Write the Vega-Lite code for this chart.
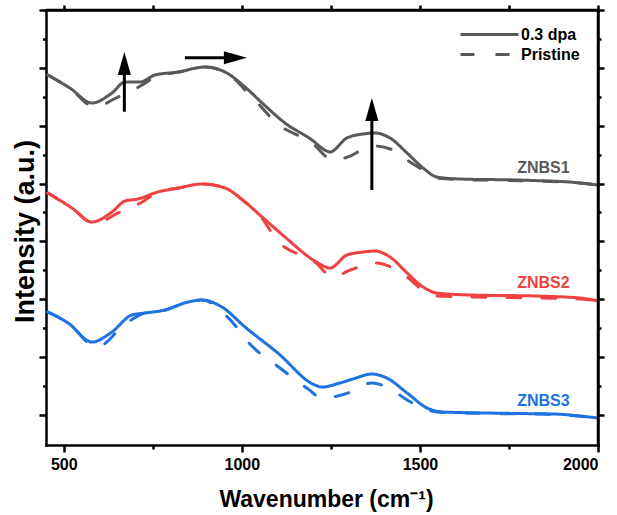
{
  "$schema": "https://vega.github.io/schema/vega-lite/v6.json",
  "width": 552,
  "height": 435,
  "autosize": "none",
  "padding": {"left": 46, "top": 10, "right": 19, "bottom": 70},
  "background": "white",
  "config": {
    "view": {"stroke": null},
    "font": "Liberation Sans",
    "axis": {
      "domainColor": "black",
      "domainWidth": 2.5,
      "domainCap": "square",
      "tickColor": "black",
      "tickWidth": 2.5,
      "grid": false,
      "labelFont": "Liberation Sans",
      "labelFontWeight": "bold",
      "labelFontSize": 16,
      "labelColor": "black",
      "titleFont": "Liberation Sans",
      "titleFontWeight": "bold",
      "titleColor": "black"
    }
  },
  "datasets": {
    "spectra": [
      {"sample": "ZNBS1", "state": "0.3 dpa", "wn": 455, "I": 5.876},
      {"sample": "ZNBS1", "state": "0.3 dpa", "wn": 517, "I": 5.651},
      {"sample": "ZNBS1", "state": "0.3 dpa", "wn": 579, "I": 5.392},
      {"sample": "ZNBS1", "state": "0.3 dpa", "wn": 635, "I": 5.564},
      {"sample": "ZNBS1", "state": "0.3 dpa", "wn": 672, "I": 5.755},
      {"sample": "ZNBS1", "state": "0.3 dpa", "wn": 714, "I": 5.755},
      {"sample": "ZNBS1", "state": "0.3 dpa", "wn": 756, "I": 5.876},
      {"sample": "ZNBS1", "state": "0.3 dpa", "wn": 821, "I": 5.927},
      {"sample": "ZNBS1", "state": "0.3 dpa", "wn": 896, "I": 6.014},
      {"sample": "ZNBS1", "state": "0.3 dpa", "wn": 953, "I": 5.927},
      {"sample": "ZNBS1", "state": "0.3 dpa", "wn": 1009, "I": 5.668},
      {"sample": "ZNBS1", "state": "0.3 dpa", "wn": 1057, "I": 5.392},
      {"sample": "ZNBS1", "state": "0.3 dpa", "wn": 1121, "I": 5.046},
      {"sample": "ZNBS1", "state": "0.3 dpa", "wn": 1197, "I": 4.752},
      {"sample": "ZNBS1", "state": "0.3 dpa", "wn": 1233, "I": 4.579},
      {"sample": "ZNBS1", "state": "0.3 dpa", "wn": 1247, "I": 4.545},
      {"sample": "ZNBS1", "state": "0.3 dpa", "wn": 1295, "I": 4.787},
      {"sample": "ZNBS1", "state": "0.3 dpa", "wn": 1340, "I": 4.856},
      {"sample": "ZNBS1", "state": "0.3 dpa", "wn": 1374, "I": 4.873},
      {"sample": "ZNBS1", "state": "0.3 dpa", "wn": 1416, "I": 4.787},
      {"sample": "ZNBS1", "state": "0.3 dpa", "wn": 1464, "I": 4.527},
      {"sample": "ZNBS1", "state": "0.3 dpa", "wn": 1509, "I": 4.268},
      {"sample": "ZNBS1", "state": "0.3 dpa", "wn": 1548, "I": 4.112},
      {"sample": "ZNBS1", "state": "0.3 dpa", "wn": 1613, "I": 4.078},
      {"sample": "ZNBS1", "state": "0.3 dpa", "wn": 1781, "I": 4.06},
      {"sample": "ZNBS1", "state": "0.3 dpa", "wn": 1830, "I": 4.05},
      {"sample": "ZNBS1", "state": "0.3 dpa", "wn": 1921, "I": 4.026},
      {"sample": "ZNBS1", "state": "0.3 dpa", "wn": 2000, "I": 3.974},

      {"sample": "ZNBS1", "state": "Pristine", "wn": 455, "I": 5.876},
      {"sample": "ZNBS1", "state": "Pristine", "wn": 517, "I": 5.651},
      {"sample": "ZNBS1", "state": "Pristine", "wn": 587, "I": 5.322},
      {"sample": "ZNBS1", "state": "Pristine", "wn": 646, "I": 5.478},
      {"sample": "ZNBS1", "state": "Pristine", "wn": 720, "I": 5.703},
      {"sample": "ZNBS1", "state": "Pristine", "wn": 756, "I": 5.841},
      {"sample": "ZNBS1", "state": "Pristine", "wn": 821, "I": 5.927},
      {"sample": "ZNBS1", "state": "Pristine", "wn": 896, "I": 6.014},
      {"sample": "ZNBS1", "state": "Pristine", "wn": 953, "I": 5.927},
      {"sample": "ZNBS1", "state": "Pristine", "wn": 1028, "I": 5.495},
      {"sample": "ZNBS1", "state": "Pristine", "wn": 1101, "I": 5.03},
      {"sample": "ZNBS1", "state": "Pristine", "wn": 1197, "I": 4.70},
      {"sample": "ZNBS1", "state": "Pristine", "wn": 1256, "I": 4.406},
      {"sample": "ZNBS1", "state": "Pristine", "wn": 1304, "I": 4.475},
      {"sample": "ZNBS1", "state": "Pristine", "wn": 1337, "I": 4.579},
      {"sample": "ZNBS1", "state": "Pristine", "wn": 1374, "I": 4.648},
      {"sample": "ZNBS1", "state": "Pristine", "wn": 1424, "I": 4.579},
      {"sample": "ZNBS1", "state": "Pristine", "wn": 1464, "I": 4.406},
      {"sample": "ZNBS1", "state": "Pristine", "wn": 1509, "I": 4.234},
      {"sample": "ZNBS1", "state": "Pristine", "wn": 1548, "I": 4.095},
      {"sample": "ZNBS1", "state": "Pristine", "wn": 1613, "I": 4.07},
      {"sample": "ZNBS1", "state": "Pristine", "wn": 1781, "I": 4.05},
      {"sample": "ZNBS1", "state": "Pristine", "wn": 1921, "I": 4.02},
      {"sample": "ZNBS1", "state": "Pristine", "wn": 2000, "I": 3.974},

      {"sample": "ZNBS2", "state": "0.3 dpa", "wn": 455, "I": 3.836},
      {"sample": "ZNBS2", "state": "0.3 dpa", "wn": 523, "I": 3.576},
      {"sample": "ZNBS2", "state": "0.3 dpa", "wn": 579, "I": 3.335},
      {"sample": "ZNBS2", "state": "0.3 dpa", "wn": 635, "I": 3.507},
      {"sample": "ZNBS2", "state": "0.3 dpa", "wn": 672, "I": 3.698},
      {"sample": "ZNBS2", "state": "0.3 dpa", "wn": 708, "I": 3.732},
      {"sample": "ZNBS2", "state": "0.3 dpa", "wn": 764, "I": 3.853},
      {"sample": "ZNBS2", "state": "0.3 dpa", "wn": 821, "I": 3.922},
      {"sample": "ZNBS2", "state": "0.3 dpa", "wn": 888, "I": 3.991},
      {"sample": "ZNBS2", "state": "0.3 dpa", "wn": 953, "I": 3.922},
      {"sample": "ZNBS2", "state": "0.3 dpa", "wn": 1009, "I": 3.68},
      {"sample": "ZNBS2", "state": "0.3 dpa", "wn": 1057, "I": 3.421},
      {"sample": "ZNBS2", "state": "0.3 dpa", "wn": 1121, "I": 3.075},
      {"sample": "ZNBS2", "state": "0.3 dpa", "wn": 1214, "I": 2.626},
      {"sample": "ZNBS2", "state": "0.3 dpa", "wn": 1247, "I": 2.539},
      {"sample": "ZNBS2", "state": "0.3 dpa", "wn": 1295, "I": 2.764},
      {"sample": "ZNBS2", "state": "0.3 dpa", "wn": 1340, "I": 2.816},
      {"sample": "ZNBS2", "state": "0.3 dpa", "wn": 1374, "I": 2.833},
      {"sample": "ZNBS2", "state": "0.3 dpa", "wn": 1416, "I": 2.73},
      {"sample": "ZNBS2", "state": "0.3 dpa", "wn": 1464, "I": 2.453},
      {"sample": "ZNBS2", "state": "0.3 dpa", "wn": 1509, "I": 2.211},
      {"sample": "ZNBS2", "state": "0.3 dpa", "wn": 1548, "I": 2.107},
      {"sample": "ZNBS2", "state": "0.3 dpa", "wn": 1641, "I": 2.073},
      {"sample": "ZNBS2", "state": "0.3 dpa", "wn": 1830, "I": 2.055},
      {"sample": "ZNBS2", "state": "0.3 dpa", "wn": 1949, "I": 2.021},
      {"sample": "ZNBS2", "state": "0.3 dpa", "wn": 2000, "I": 1.969},

      {"sample": "ZNBS2", "state": "Pristine", "wn": 455, "I": 3.836},
      {"sample": "ZNBS2", "state": "Pristine", "wn": 523, "I": 3.576},
      {"sample": "ZNBS2", "state": "Pristine", "wn": 588, "I": 3.30},
      {"sample": "ZNBS2", "state": "Pristine", "wn": 646, "I": 3.473},
      {"sample": "ZNBS2", "state": "Pristine", "wn": 720, "I": 3.68},
      {"sample": "ZNBS2", "state": "Pristine", "wn": 764, "I": 3.853},
      {"sample": "ZNBS2", "state": "Pristine", "wn": 821, "I": 3.922},
      {"sample": "ZNBS2", "state": "Pristine", "wn": 888, "I": 3.991},
      {"sample": "ZNBS2", "state": "Pristine", "wn": 953, "I": 3.922},
      {"sample": "ZNBS2", "state": "Pristine", "wn": 1009, "I": 3.68},
      {"sample": "ZNBS2", "state": "Pristine", "wn": 1045, "I": 3.49},
      {"sample": "ZNBS2", "state": "Pristine", "wn": 1101, "I": 3.006},
      {"sample": "ZNBS2", "state": "Pristine", "wn": 1205, "I": 2.643},
      {"sample": "ZNBS2", "state": "Pristine", "wn": 1256, "I": 2.384},
      {"sample": "ZNBS2", "state": "Pristine", "wn": 1304, "I": 2.505},
      {"sample": "ZNBS2", "state": "Pristine", "wn": 1374, "I": 2.626},
      {"sample": "ZNBS2", "state": "Pristine", "wn": 1424, "I": 2.539},
      {"sample": "ZNBS2", "state": "Pristine", "wn": 1464, "I": 2.384},
      {"sample": "ZNBS2", "state": "Pristine", "wn": 1515, "I": 2.124},
      {"sample": "ZNBS2", "state": "Pristine", "wn": 1548, "I": 2.055},
      {"sample": "ZNBS2", "state": "Pristine", "wn": 1641, "I": 2.038},
      {"sample": "ZNBS2", "state": "Pristine", "wn": 1830, "I": 2.021},
      {"sample": "ZNBS2", "state": "Pristine", "wn": 1949, "I": 2.004},
      {"sample": "ZNBS2", "state": "Pristine", "wn": 2000, "I": 1.969},

      {"sample": "ZNBS3", "state": "0.3 dpa", "wn": 455, "I": 1.779},
      {"sample": "ZNBS3", "state": "0.3 dpa", "wn": 512, "I": 1.589},
      {"sample": "ZNBS3", "state": "0.3 dpa", "wn": 579, "I": 1.26},
      {"sample": "ZNBS3", "state": "0.3 dpa", "wn": 635, "I": 1.433},
      {"sample": "ZNBS3", "state": "0.3 dpa", "wn": 691, "I": 1.727},
      {"sample": "ZNBS3", "state": "0.3 dpa", "wn": 728, "I": 1.761},
      {"sample": "ZNBS3", "state": "0.3 dpa", "wn": 784, "I": 1.813},
      {"sample": "ZNBS3", "state": "0.3 dpa", "wn": 849, "I": 1.952},
      {"sample": "ZNBS3", "state": "0.3 dpa", "wn": 888, "I": 1.986},
      {"sample": "ZNBS3", "state": "0.3 dpa", "wn": 944, "I": 1.865},
      {"sample": "ZNBS3", "state": "0.3 dpa", "wn": 1009, "I": 1.519},
      {"sample": "ZNBS3", "state": "0.3 dpa", "wn": 1101, "I": 1.07},
      {"sample": "ZNBS3", "state": "0.3 dpa", "wn": 1205, "I": 0.517},
      {"sample": "ZNBS3", "state": "0.3 dpa", "wn": 1225, "I": 0.482},
      {"sample": "ZNBS3", "state": "0.3 dpa", "wn": 1275, "I": 0.551},
      {"sample": "ZNBS3", "state": "0.3 dpa", "wn": 1312, "I": 0.621},
      {"sample": "ZNBS3", "state": "0.3 dpa", "wn": 1365, "I": 0.707},
      {"sample": "ZNBS3", "state": "0.3 dpa", "wn": 1407, "I": 0.638},
      {"sample": "ZNBS3", "state": "0.3 dpa", "wn": 1464, "I": 0.379},
      {"sample": "ZNBS3", "state": "0.3 dpa", "wn": 1520, "I": 0.119},
      {"sample": "ZNBS3", "state": "0.3 dpa", "wn": 1565, "I": 0.05},
      {"sample": "ZNBS3", "state": "0.3 dpa", "wn": 1688, "I": 0.033},
      {"sample": "ZNBS3", "state": "0.3 dpa", "wn": 1830, "I": 0.02},
      {"sample": "ZNBS3", "state": "0.3 dpa", "wn": 1874, "I": 0.016},
      {"sample": "ZNBS3", "state": "0.3 dpa", "wn": 2000, "I": -0.054},

      {"sample": "ZNBS3", "state": "Pristine", "wn": 455, "I": 1.779},
      {"sample": "ZNBS3", "state": "Pristine", "wn": 512, "I": 1.589},
      {"sample": "ZNBS3", "state": "Pristine", "wn": 593, "I": 1.174},
      {"sample": "ZNBS3", "state": "Pristine", "wn": 672, "I": 1.571},
      {"sample": "ZNBS3", "state": "Pristine", "wn": 728, "I": 1.761},
      {"sample": "ZNBS3", "state": "Pristine", "wn": 784, "I": 1.813},
      {"sample": "ZNBS3", "state": "Pristine", "wn": 849, "I": 1.952},
      {"sample": "ZNBS3", "state": "Pristine", "wn": 888, "I": 1.986},
      {"sample": "ZNBS3", "state": "Pristine", "wn": 960, "I": 1.692},
      {"sample": "ZNBS3", "state": "Pristine", "wn": 1028, "I": 1.191},
      {"sample": "ZNBS3", "state": "Pristine", "wn": 1107, "I": 0.811},
      {"sample": "ZNBS3", "state": "Pristine", "wn": 1186, "I": 0.448},
      {"sample": "ZNBS3", "state": "Pristine", "wn": 1225, "I": 0.292},
      {"sample": "ZNBS3", "state": "Pristine", "wn": 1256, "I": 0.31},
      {"sample": "ZNBS3", "state": "Pristine", "wn": 1304, "I": 0.396},
      {"sample": "ZNBS3", "state": "Pristine", "wn": 1323, "I": 0.465},
      {"sample": "ZNBS3", "state": "Pristine", "wn": 1365, "I": 0.551},
      {"sample": "ZNBS3", "state": "Pristine", "wn": 1422, "I": 0.431},
      {"sample": "ZNBS3", "state": "Pristine", "wn": 1464, "I": 0.258},
      {"sample": "ZNBS3", "state": "Pristine", "wn": 1509, "I": 0.119},
      {"sample": "ZNBS3", "state": "Pristine", "wn": 1548, "I": 0.05},
      {"sample": "ZNBS3", "state": "Pristine", "wn": 1688, "I": 0.025},
      {"sample": "ZNBS3", "state": "Pristine", "wn": 1874, "I": 0.008},
      {"sample": "ZNBS3", "state": "Pristine", "wn": 2000, "I": -0.054}
    ],
    "shafts": [
      {"wn": 670, "I": 5.241, "wn2": 670, "I2": 5.962},
      {"wn": 840, "I": 6.175, "wn2": 961, "I2": 6.175},
      {"wn": 1365, "I": 3.888, "wn2": 1365, "I2": 5.167}
    ],
    "heads": [
      {"wn": 670, "I": 6.273, "dir": "up"},
      {"wn": 1014, "I": 6.175, "dir": "right"},
      {"wn": 1365, "I": 5.478, "dir": "up"}
    ]
  },
  "resolve": {
    "scale": {"x": "independent", "y": "independent"},
    "axis": {"x": "independent", "y": "independent"}
  },
  "layer": [
    {
      "data": {"name": "spectra"},
      "transform": [{"filter": "datum.state === 'Pristine'"}],
      "mark": {"type": "line", "strokeWidth": 3, "interpolate": "monotone", "strokeCap": "round"},
      "encoding": {
        "x": {
          "field": "wn", "type": "quantitative",
          "scale": {"domain": [450, 2000], "nice": false, "zero": false},
          "axis": {
            "orient": "bottom",
            "values": [500, 750, 1000, 1250, 1500, 1750, 2000],
            "format": "d",
            "labelExpr": "datum.value % 500 === 0 ? datum.label : ''",
            "tickSize": {"condition": {"test": "datum.value % 500 === 0", "value": 7}, "value": 4},
            "labelPadding": 4,
            "title": "Wavenumber (cm⁻¹)",
            "titleFontSize": 23,
            "titleX": 280,
            "titleY": 61,
            "titleAlign": "center",
            "titleBaseline": "alphabetic"
          }
        },
        "y": {
          "field": "I", "type": "quantitative",
          "scale": {"domain": [-0.52, 7], "nice": false, "zero": false},
          "axis": {
            "orient": "left",
            "values": [0, 0.5, 1, 1.5, 2, 2.5, 3, 3.5, 4, 4.5, 5, 5.5, 6, 6.5, 7],
            "labels": false,
            "tickSize": {"condition": {"test": "datum.value % 1 === 0", "value": 7}, "value": 3.5},
            "title": "Intensity (a.u.)",
            "titleFontSize": 27,
            "titleAngle": 270,
            "titleX": -13,
            "titleY": 221,
            "titleAlign": "center",
            "titleBaseline": "alphabetic"
          }
        },
        "color": {
          "field": "sample", "type": "nominal",
          "scale": {"domain": ["ZNBS1", "ZNBS2", "ZNBS3"], "range": ["#595959", "#EE4242", "#1E73E0"]},
          "legend": null
        },
        "strokeDash": {
          "field": "state", "type": "nominal",
          "scale": {"domain": ["0.3 dpa", "Pristine"], "range": [[1, 0], [14, 21]]},
          "legend": {
            "title": null,
            "orient": "none",
            "legendX": 432,
            "legendY": 13,
            "rowPadding": 0,
            "symbolType": "M-3,0H3",
            "symbolSize": 374,
            "symbolStrokeWidth": 3,
            "symbolStrokeColor": "#595959",
            "labelFont": "Liberation Sans",
            "labelFontWeight": "bold",
            "labelFontSize": 16,
            "labelColor": "black",
            "labelOffset": 20
          }
        },
        "detail": {"field": "sample"}
      }
    },
    {
      "data": {"name": "spectra"},
      "transform": [{"filter": "datum.state === '0.3 dpa'"}],
      "mark": {"type": "line", "strokeWidth": 3, "interpolate": "monotone", "strokeCap": "round"},
      "encoding": {
        "x": {
          "field": "wn", "type": "quantitative",
          "scale": {"domain": [450, 2000], "nice": false, "zero": false},
          "axis": {
            "orient": "top",
            "values": [500, 750, 1000, 1250, 1500, 1750, 2000],
            "tickSize": 5,
            "labels": false,
            "title": " ",
            "titleOpacity": 0,
            "titleX": 280,
            "titleY": 20
          }
        },
        "y": {
          "field": "I", "type": "quantitative",
          "scale": {"domain": [-0.52, 7], "nice": false, "zero": false},
          "axis": {
            "orient": "right",
            "values": [0, 0.5, 1, 1.5, 2, 2.5, 3, 3.5, 4, 4.5, 5, 5.5, 6, 6.5, 7],
            "tickSize": {"condition": {"test": "datum.value % 1 === 0", "value": 6}, "value": 3},
            "labels": false,
            "title": " ",
            "titleOpacity": 0,
            "titleX": -100,
            "titleY": 200
          }
        },
        "color": {"field": "sample", "type": "nominal", "legend": null},
        "strokeDash": {"field": "state", "type": "nominal"},
        "detail": {"field": "sample"}
      }
    },
    {
      "data": {"values": [{"edge": "top"}]},
      "mark": {"type": "rule", "strokeWidth": 2.5, "color": "black"},
      "encoding": {
        "y": {"datum": 7, "type": "quantitative", "scale": {"domain": [-0.52, 7], "nice": false, "zero": false}, "axis": null}
      }
    },
    {
      "data": {"values": [{"edge": "right"}]},
      "mark": {"type": "rule", "strokeWidth": 2.5, "color": "black"},
      "encoding": {
        "x": {"datum": 2000, "type": "quantitative", "scale": {"domain": [450, 2000], "nice": false, "zero": false}, "axis": null}
      }
    },
    {
      "data": {"name": "spectra"},
      "transform": [{"filter": "datum.state === '0.3 dpa' && datum.wn === 1830"}],
      "mark": {"type": "text", "dx": 6, "dy": -13, "fontSize": 16, "fontWeight": "bold", "font": "Liberation Sans", "baseline": "middle", "align": "center"},
      "encoding": {
        "x": {"field": "wn", "type": "quantitative", "scale": {"domain": [450, 2000], "nice": false, "zero": false}, "axis": null},
        "y": {"field": "I", "type": "quantitative", "scale": {"domain": [-0.52, 7], "nice": false, "zero": false}, "axis": null},
        "text": {"field": "sample"},
        "color": {"field": "sample", "type": "nominal", "legend": null}
      }
    },
    {
      "data": {"name": "shafts"},
      "mark": {"type": "rule", "strokeWidth": 3, "color": "black"},
      "encoding": {
        "x": {"field": "wn", "type": "quantitative", "scale": {"domain": [450, 2000], "nice": false, "zero": false}, "axis": null},
        "y": {"field": "I", "type": "quantitative", "scale": {"domain": [-0.52, 7], "nice": false, "zero": false}, "axis": null},
        "x2": {"field": "wn2"},
        "y2": {"field": "I2"}
      }
    },
    {
      "data": {"name": "heads"},
      "mark": {"type": "point", "filled": true, "color": "black", "opacity": 1, "size": 529, "strokeWidth": 0},
      "encoding": {
        "x": {"field": "wn", "type": "quantitative", "scale": {"domain": [450, 2000], "nice": false, "zero": false}, "axis": null},
        "y": {"field": "I", "type": "quantitative", "scale": {"domain": [-0.52, 7], "nice": false, "zero": false}, "axis": null},
        "shape": {
          "field": "dir", "type": "nominal",
          "scale": {"domain": ["up", "right"], "range": ["M0,0L0.57,2L-0.57,2Z", "M0,0L-2,-0.57L-2,0.57Z"]},
          "legend": null
        }
      }
    }
  ]
}
